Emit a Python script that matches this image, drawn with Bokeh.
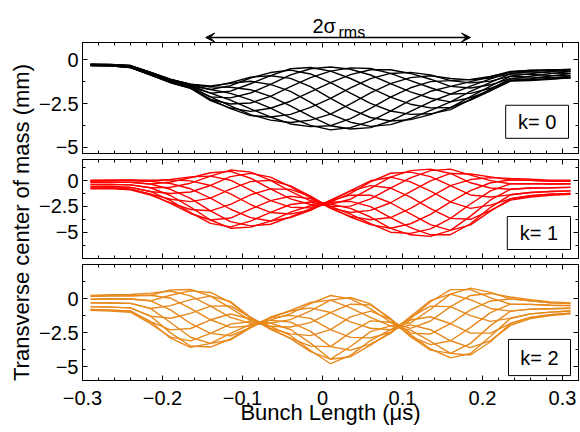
import math
from bokeh.plotting import figure
from bokeh.models import (Range1d, LinearAxis, FixedTicker, CustomJSTickFormatter, Label,
                          Arrow, VeeHead, BoxAnnotation)
from bokeh.layouts import row, column
from bokeh.embed import file_html
from bokeh.resources import INLINE

FONT = "Liberation Sans"

# position along the bunch (microseconds)
x_us = [-0.29, -0.265, -0.24, -0.215, -0.19, -0.165, -0.14, -0.115, -0.09, -0.065, -0.04, -0.015,
        0.01, 0.035, 0.06, 0.085, 0.11, 0.135, 0.16, 0.185, 0.21, 0.235, 0.26, 0.285, 0.31]

# k = 0 : the 12 turn-by-turn traces sampled at each x position (mm)
k0_samples = [
    [-0.24, -0.25, -0.26, -0.28, -0.30, -0.32, -0.32, -0.32, -0.30, -0.28, -0.26, -0.25],
    [-0.26, -0.27, -0.29, -0.31, -0.33, -0.34, -0.34, -0.33, -0.31, -0.29, -0.27, -0.26],
    [-0.33, -0.36, -0.39, -0.42, -0.44, -0.44, -0.43, -0.40, -0.37, -0.34, -0.32, -0.32],
    [-0.74, -0.78, -0.82, -0.85, -0.86, -0.85, -0.82, -0.78, -0.74, -0.71, -0.70, -0.71],
    [-1.18, -1.23, -1.28, -1.30, -1.29, -1.26, -1.22, -1.17, -1.12, -1.10, -1.11, -1.14],
    [-1.52, -1.58, -1.61, -1.62, -1.59, -1.54, -1.48, -1.42, -1.39, -1.38, -1.41, -1.46],
    [-2.11, -2.26, -2.32, -2.26, -2.11, -1.90, -1.69, -1.54, -1.48, -1.54, -1.69, -1.90],
    [-2.62, -2.78, -2.75, -2.52, -2.17, -1.78, -1.47, -1.30, -1.34, -1.56, -1.91, -2.30],
    [-3.13, -3.18, -2.94, -2.46, -1.89, -1.36, -1.03, -0.98, -1.22, -1.70, -2.28, -2.80],
    [-3.44, -3.26, -2.76, -2.08, -1.40, -0.90, -0.72, -0.90, -1.40, -2.08, -2.76, -3.26],
    [-3.58, -3.11, -2.36, -1.53, -0.85, -0.50, -0.58, -1.05, -1.80, -2.63, -3.31, -3.66],
    [-3.44, -2.71, -1.82, -1.01, -0.50, -0.43, -0.80, -1.53, -2.42, -3.23, -3.74, -3.81],
    [-3.10, -2.20, -1.30, -0.64, -0.40, -0.64, -1.30, -2.20, -3.10, -3.76, -4.00, -3.76],
    [-2.51, -1.59, -0.84, -0.45, -0.53, -1.06, -1.89, -2.81, -3.56, -3.95, -3.87, -3.35],
    [-1.88, -1.07, -0.56, -0.49, -0.86, -1.59, -2.48, -3.29, -3.80, -3.87, -3.50, -2.77],
    [-1.35, -0.77, -0.56, -0.77, -1.35, -2.13, -2.92, -3.49, -3.70, -3.49, -2.92, -2.13],
    [-1.01, -0.71, -0.77, -1.18, -1.82, -2.53, -3.11, -3.41, -3.35, -2.94, -2.30, -1.59],
    [-0.90, -0.85, -1.10, -1.59, -2.19, -2.74, -3.08, -3.13, -2.88, -2.39, -1.79, -1.24],
    [-1.06, -1.18, -1.51, -1.95, -2.40, -2.72, -2.84, -2.72, -2.40, -1.95, -1.51, -1.18],
    [-1.14, -1.31, -1.60, -1.91, -2.16, -2.29, -2.26, -2.09, -1.80, -1.50, -1.24, -1.11],
    [-1.03, -1.21, -1.42, -1.62, -1.75, -1.76, -1.67, -1.49, -1.28, -1.08, -0.96, -0.94],
    [-0.79, -0.93, -1.07, -1.17, -1.21, -1.17, -1.07, -0.93, -0.79, -0.69, -0.65, -0.69],
    [-0.83, -0.98, -1.11, -1.18, -1.16, -1.07, -0.93, -0.78, -0.65, -0.58, -0.60, -0.69],
    [-0.88, -1.00, -1.08, -1.10, -1.04, -0.92, -0.78, -0.66, -0.58, -0.56, -0.62, -0.74],
    [-0.91, -1.00, -1.03, -1.00, -0.91, -0.78, -0.66, -0.56, -0.53, -0.56, -0.66, -0.78],
]

# k = 1
k1_samples = [
    [-0.17, -0.38, -0.59, -0.74, -0.80, -0.74, -0.59, -0.38, -0.17, -0.02, 0.04, -0.02],
    [-0.16, -0.37, -0.58, -0.73, -0.79, -0.73, -0.58, -0.37, -0.16, -0.01, 0.05, -0.01],
    [-0.18, -0.42, -0.66, -0.84, -0.90, -0.84, -0.66, -0.42, -0.18, 0.00, 0.06, 0.00],
    [-0.34, -0.70, -1.06, -1.32, -1.42, -1.32, -1.06, -0.70, -0.34, -0.08, 0.02, -0.08],
    [-0.85, -1.45, -1.95, -2.21, -2.16, -1.81, -1.26, -0.65, -0.15, 0.11, 0.06, -0.29],
    [-1.73, -2.58, -3.11, -3.19, -2.80, -2.04, -1.11, -0.26, 0.27, 0.35, -0.04, -0.80],
    [-2.93, -3.82, -4.15, -3.82, -2.93, -1.70, -0.48, 0.42, 0.75, 0.42, -0.48, -1.70],
    [-3.98, -4.61, -4.48, -3.63, -2.30, -0.83, 0.38, 1.01, 0.88, 0.03, -1.30, -2.78],
    [-4.39, -4.51, -3.92, -2.77, -1.38, -0.11, 0.69, 0.81, 0.22, -0.93, -2.32, -3.59],
    [-4.23, -3.92, -3.09, -1.95, -0.81, 0.02, 0.33, 0.02, -0.81, -1.95, -3.09, -3.92],
    [-3.51, -3.05, -2.32, -1.52, -0.86, -0.52, -0.59, -1.05, -1.78, -2.58, -3.24, -3.58],
    [-2.74, -2.44, -2.08, -1.75, -1.54, -1.51, -1.66, -1.96, -2.32, -2.65, -2.86, -2.89],
    [-2.10, -2.30, -2.50, -2.65, -2.70, -2.65, -2.50, -2.30, -2.10, -1.95, -1.90, -1.95],
    [-2.02, -2.70, -3.25, -3.53, -3.47, -3.09, -2.48, -1.81, -1.25, -0.97, -1.03, -1.41],
    [-2.52, -3.53, -4.17, -4.27, -3.80, -2.89, -1.78, -0.77, -0.13, -0.03, -0.50, -1.42],
    [-3.58, -4.62, -5.00, -4.62, -3.58, -2.15, -0.73, 0.32, 0.70, 0.32, -0.73, -2.15],
    [-4.56, -5.25, -5.11, -4.18, -2.70, -1.07, 0.26, 0.95, 0.81, -0.13, -1.60, -3.23],
    [-5.25, -5.40, -4.68, -3.28, -1.58, -0.03, 0.95, 1.10, 0.38, -1.02, -2.72, -4.27],
    [-5.24, -4.82, -3.66, -2.07, -0.49, 0.68, 1.10, 0.68, -0.49, -2.07, -3.66, -4.82],
    [-4.18, -3.44, -2.27, -0.98, 0.09, 0.63, 0.52, -0.22, -1.40, -2.69, -3.75, -4.29],
    [-2.59, -1.88, -1.01, -0.22, 0.28, 0.35, -0.01, -0.73, -1.59, -2.38, -2.88, -2.96],
    [-1.38, -0.85, -0.33, 0.06, 0.20, 0.06, -0.33, -0.85, -1.38, -1.76, -1.90, -1.76],
    [-1.16, -0.73, -0.30, 0.02, 0.13, 0.02, -0.30, -0.73, -1.16, -1.48, -1.59, -1.48],
    [-1.06, -0.70, -0.34, -0.08, 0.02, -0.08, -0.34, -0.70, -1.06, -1.32, -1.42, -1.32],
    [-1.00, -0.66, -0.32, -0.07, 0.02, -0.07, -0.32, -0.66, -1.00, -1.25, -1.34, -1.25],
]

# k = 2
k2_samples = [
    [-0.04, -0.31, -0.59, -0.79, -0.86, -0.79, -0.59, -0.31, -0.04, 0.17, 0.24, 0.17],
    [-0.02, -0.32, -0.62, -0.84, -0.92, -0.84, -0.62, -0.32, -0.02, 0.20, 0.28, 0.20],
    [-0.03, -0.35, -0.68, -0.91, -1.00, -0.91, -0.68, -0.35, -0.03, 0.21, 0.30, 0.21],
    [-0.16, -0.72, -1.28, -1.69, -1.84, -1.69, -1.28, -0.72, -0.16, 0.25, 0.40, 0.25],
    [-0.82, -1.75, -2.51, -2.90, -2.82, -2.29, -1.44, -0.51, 0.25, 0.64, 0.56, 0.03],
    [-1.82, -2.83, -3.47, -3.57, -3.10, -2.19, -1.08, -0.07, 0.57, 0.67, 0.20, -0.72],
    [-2.55, -3.28, -3.55, -3.28, -2.55, -1.55, -0.55, 0.18, 0.45, 0.18, -0.55, -1.55],
    [-2.72, -3.03, -2.96, -2.54, -1.87, -1.13, -0.53, -0.21, -0.28, -0.70, -1.37, -2.11],
    [-2.13, -2.14, -2.06, -1.89, -1.68, -1.49, -1.37, -1.36, -1.44, -1.61, -1.82, -2.01],
    [-1.35, -1.41, -1.58, -1.80, -2.03, -2.19, -2.25, -2.19, -2.03, -1.80, -1.58, -1.41],
    [-0.91, -1.23, -1.72, -2.26, -2.70, -2.93, -2.89, -2.58, -2.08, -1.54, -1.10, -0.87],
    [-0.68, -1.45, -2.40, -3.26, -3.80, -3.88, -3.48, -2.71, -1.76, -0.90, -0.36, -0.28],
    [-1.02, -2.27, -3.52, -4.44, -4.77, -4.44, -3.52, -2.27, -1.02, -0.11, 0.23, -0.11],
    [-1.71, -2.84, -3.78, -4.26, -4.16, -3.51, -2.47, -1.34, -0.41, 0.08, -0.02, -0.68],
    [-2.17, -2.88, -3.34, -3.41, -3.07, -2.42, -1.63, -0.92, -0.46, -0.39, -0.73, -1.38],
    [-2.28, -2.48, -2.55, -2.48, -2.28, -2.00, -1.73, -1.52, -1.45, -1.52, -1.73, -2.00],
    [-1.48, -1.31, -1.35, -1.57, -1.92, -2.31, -2.63, -2.79, -2.76, -2.53, -2.18, -1.79],
    [-0.23, -0.15, -0.55, -1.33, -2.28, -3.14, -3.69, -3.77, -3.37, -2.59, -1.64, -0.78],
    [0.66, 0.33, -0.59, -1.84, -3.09, -4.01, -4.34, -4.01, -3.09, -1.84, -0.59, 0.33],
    [0.66, -0.08, -1.25, -2.53, -3.59, -4.13, -4.02, -3.28, -2.11, -0.83, 0.23, 0.77],
    [0.06, -0.72, -1.67, -2.53, -3.08, -3.16, -2.76, -1.98, -1.03, -0.17, 0.38, 0.46],
    [-0.40, -0.92, -1.44, -1.82, -1.96, -1.82, -1.44, -0.92, -0.40, -0.02, 0.12, -0.02],
    [-0.42, -0.77, -1.12, -1.38, -1.47, -1.38, -1.12, -0.77, -0.42, -0.16, -0.07, -0.16],
    [-0.49, -0.74, -0.99, -1.17, -1.24, -1.17, -0.99, -0.74, -0.49, -0.31, -0.24, -0.31],
    [-0.51, -0.71, -0.91, -1.06, -1.11, -1.06, -0.91, -0.71, -0.51, -0.36, -0.31, -0.36],
]

panel_colors = ["#000000", "#ff0000", "#e8891c"]
panel_ylims = [(-5.35, 1.0), (-7.54, 2.03), (-6.0, 2.5)]
mode_labels = ["k= 0", "k= 1", "k= 2"]
# label boxes (left, right, top, bottom) in data units of each panel
mode_boxes = [(0.229, 0.3075, -2.59, -4.48), (0.231, 0.31, -3.48, -6.67), (0.2325, 0.31, -2.99, -5.64)]
y_ticks = [-5, -2.5, 0]
y_minor = [-6.25, -3.75, -1.25, 1.25]
x_ticks = [-0.3, -0.2, -0.1, 0, 0.1, 0.2, 0.3]
x_minor = [round(-0.28 + 0.02 * i, 2) for i in range(30)]
sigma_span = (-0.146, 0.185)
x_lim = (-0.3, 0.32)

fmt = CustomJSTickFormatter(code="var s = String(Math.round(tick*100)/100); return s.replace('-', '\u2212');")

W = 544


def style_axis(ax):
    ax.major_tick_in = 5
    ax.major_tick_out = 0
    ax.minor_tick_in = 3
    ax.minor_tick_out = 0
    ax.axis_line_color = "black"
    ax.major_tick_line_color = "black"
    ax.minor_tick_line_color = "black"
    ax.major_label_text_font = FONT
    ax.major_label_text_font_size = "20px"
    ax.major_label_text_color = "black"
    ax.major_label_standoff = 4
    ax.formatter = fmt


def add_tick_only(p, side, majors, minors):
    # two label-free axes: short minor ticks and long major ticks, both pointing inward
    for pos, length in ((minors, 3), (majors, 5)):
        ax = LinearAxis(ticker=FixedTicker(ticks=[], minor_ticks=pos))
        ax.major_tick_in = 0
        ax.major_tick_out = 0
        ax.minor_tick_in = length
        ax.minor_tick_out = 0
        ax.axis_line_color = "black"
        ax.minor_tick_line_color = "black"
        ax.major_label_standoff = 0
        p.add_layout(ax, side)


def make_panel(idx, samples, height, bt, bb, show_x):
    lo, hi = panel_ylims[idx]
    p = figure(width=W, height=height, x_range=Range1d(*x_lim), y_range=Range1d(lo, hi),
               output_backend="svg", toolbar_location=None,
               x_axis_location=None, y_axis_location=None,
               min_border_left=46, min_border_right=2, min_border_top=bt, min_border_bottom=bb,
               outline_line_color="black")
    p.grid.visible = False
    yax = LinearAxis(ticker=FixedTicker(ticks=y_ticks, minor_ticks=y_minor))
    style_axis(yax)
    p.add_layout(yax, "left")
    add_tick_only(p, "right", y_ticks, y_minor)
    add_tick_only(p, "above", x_ticks, x_minor)
    if show_x:
        xax = LinearAxis(ticker=FixedTicker(ticks=x_ticks, minor_ticks=x_minor))
        style_axis(xax)
        p.add_layout(xax, "below")
    else:
        add_tick_only(p, "below", x_ticks, x_minor)
    ntr = len(samples[0])
    ys = [[row_[i] for row_ in samples] for i in range(ntr)]
    p.multi_line(xs=[x_us] * ntr, ys=ys, line_color=panel_colors[idx], line_width=1.4)
    l, r, t, b = mode_boxes[idx]
    p.add_layout(BoxAnnotation(left=l, right=r, top=t, bottom=b, fill_color="white", fill_alpha=1.0,
                               line_color="black", line_width=1, line_alpha=1.0))
    p.add_layout(Label(x=(l + r) / 2, y=(t + b) / 2, text=mode_labels[idx], text_align="center",
                       text_baseline="middle", text_font=FONT, text_font_size="20px", text_color="black"))
    return p


f1 = make_panel(0, k0_samples, 117, 0, 6, False)
f2 = make_panel(1, k1_samples, 102, 0, 3, False)
f3 = make_panel(2, k2_samples, 171, 3, 52, True)

xb = f3.below[0]
xb.axis_label = "Bunch Length (\u03bcs)"
xb.axis_label_text_font = FONT
xb.axis_label_text_font_size = "22px"
xb.axis_label_text_font_style = "normal"
xb.axis_label_text_color = "black"
xb.axis_label_standoff = -8
xb.major_label_standoff = 10

# 2 sigma_rms marker above the top panel (own strip sharing the x scale)
top = figure(width=W, height=42, x_range=Range1d(*x_lim), y_range=Range1d(0, 42),
             output_backend="svg", toolbar_location=None, x_axis_location=None, y_axis_location=None,
             min_border_left=46, min_border_right=2, min_border_top=0, min_border_bottom=0,
             outline_line_color=None)
top.grid.visible = False
top.add_layout(Arrow(x_start=sigma_span[0], y_start=5, x_end=sigma_span[1], y_end=5,
                     start=VeeHead(size=9, fill_color="black", line_color="black"),
                     end=VeeHead(size=9, fill_color="black", line_color="black"),
                     line_color="black", line_width=1.3))
top.add_layout(Label(x=-0.0125, y=17, text="2\u03c3", text_font=FONT, text_font_size="20px",
                     text_align="left", text_baseline="alphabetic", text_color="black"))
top.add_layout(Label(x=0.02, y=10, text="rms", text_font=FONT, text_font_size="16px",
                     text_align="left", text_baseline="alphabetic", text_color="black"))

# shared y label
ylab = figure(width=36, height=432, x_range=Range1d(0, 36), y_range=Range1d(0, 432),
              output_backend="svg", toolbar_location=None, x_axis_location=None, y_axis_location=None,
              min_border=0, outline_line_color=None)
ylab.grid.visible = False
ylab.add_layout(Label(x=20.5, y=210, text="Transverse center of mass (mm)", angle=math.pi / 2,
                      text_align="center", text_baseline="middle", text_font=FONT,
                      text_font_size="22px", text_color="black"))

layout = row(ylab, column(top, f1, f2, f3))

open("out.html", "w").write(file_html(layout, INLINE))
